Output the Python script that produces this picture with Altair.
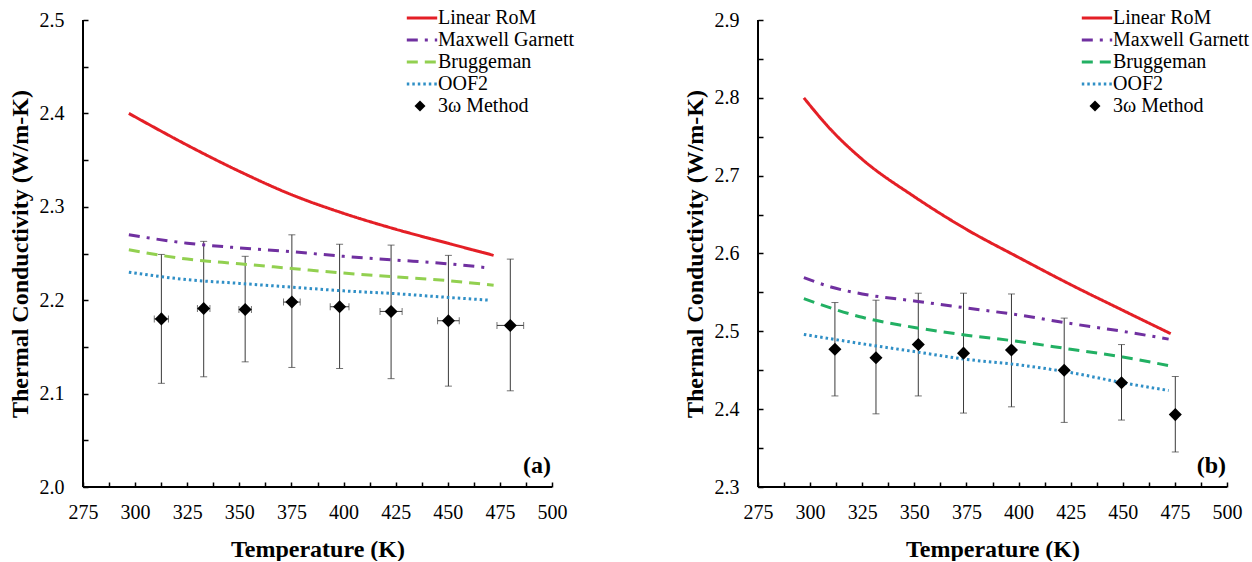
import altair as alt
import pandas as pd

FONT = "Liberation Serif"
SERIES = ["Linear RoM", "Maxwell Garnett", "Bruggeman", "OOF2"]
METHOD = "3ω Method"

X_TICKS = [275, 287.5, 300, 312.5, 325, 337.5, 350, 362.5, 375, 387.5, 400,
           412.5, 425, 437.5, 450, 462.5, 475, 487.5, 500]
A_Y_TICKS = [2.0, 2.05, 2.1, 2.15, 2.2, 2.25, 2.3, 2.35, 2.4, 2.45, 2.5]
B_Y_TICKS = [2.3, 2.35, 2.4, 2.45, 2.5, 2.55, 2.6, 2.65, 2.7, 2.75, 2.8, 2.85, 2.9]

# ---------- panel (a) ----------
A_ROM_T = [297, 310, 325, 350, 375, 400, 425, 450, 472]
A_ROM_K = [2.400, 2.384, 2.366, 2.338, 2.313, 2.293, 2.276, 2.261, 2.248]
A_MG_T = [297, 325, 350, 375, 400, 425, 450, 468]
A_MG_K = [2.270, 2.261, 2.256, 2.252, 2.247, 2.243, 2.239, 2.235]
A_BR_T = [297, 325, 350, 375, 400, 425, 450, 472]
A_BR_K = [2.254, 2.244, 2.239, 2.234, 2.229, 2.225, 2.221, 2.216]
A_OOF_T = [297, 325, 350, 375, 400, 425, 450, 470]
A_OOF_K = [2.230, 2.222, 2.218, 2.214, 2.210, 2.207, 2.203, 2.200]

A_EXP_T = [312.6, 332.9, 352.8, 375.2, 398.1, 422.8, 450.3, 480.0]
A_EXP_K = [2.180, 2.191, 2.190, 2.198, 2.193, 2.188, 2.178, 2.173]
A_EXP_HI = [2.249, 2.263, 2.247, 2.270, 2.260, 2.259, 2.248, 2.244]
A_EXP_LO = [2.111, 2.118, 2.134, 2.128, 2.127, 2.116, 2.108, 2.103]
A_EXP_TERR = [3.4, 3.0, 3.0, 4.0, 4.5, 5.3, 5.2, 6.4]

# ---------- panel (b) ----------
B_ROM_T = [297, 310, 325, 350, 375, 400, 425, 450, 473]
B_ROM_K = [2.800, 2.759, 2.721, 2.673, 2.631, 2.595, 2.560, 2.527, 2.497]
B_MG_T = [297, 310, 325, 350, 375, 400, 425, 450, 472]
B_MG_K = [2.569, 2.557, 2.548, 2.539, 2.530, 2.521, 2.510, 2.500, 2.490]
B_BR_T = [297, 325, 350, 375, 400, 425, 450, 472]
B_BR_K = [2.542, 2.518, 2.505, 2.495, 2.487, 2.477, 2.467, 2.456]
B_OOF_T = [297, 325, 350, 375, 400, 425, 450, 472]
B_OOF_K = [2.496, 2.484, 2.474, 2.464, 2.457, 2.447, 2.434, 2.424]

B_EXP_T = [311.9, 331.6, 351.9, 373.6, 396.6, 421.9, 449.4, 475.2]
B_EXP_K = [2.477, 2.466, 2.483, 2.472, 2.476, 2.450, 2.434, 2.393]
B_EXP_HI = [2.537, 2.540, 2.549, 2.549, 2.548, 2.517, 2.483, 2.442]
B_EXP_LO = [2.417, 2.394, 2.417, 2.395, 2.403, 2.383, 2.386, 2.345]

A_COLORS = ["#e41f26", "#7030a0", "#92d050", "#2f8fc6"]
B_COLORS = ["#e41f26", "#7030a0", "#22b063", "#2f8fc6"]
DASHES = [[1, 0], [11, 7, 3, 7], [11, 7], [2.5, 3]]
EB = "#3a3a3a"

W, H = 469, 467
LINE_SYMBOL = "M-1.6,0L1.6,0"


def panel(lines, exp, ydom, yticks, colors, label, terr=None):
    rows = []
    for name, (ts, ks) in zip(SERIES, lines):
        for t, k in zip(ts, ks):
            rows.append({"series": name, "T": t, "k": k})
    ldf = pd.DataFrame(rows)
    T, K, HI, LO = exp
    pdf = pd.DataFrame({"T": T, "k": K, "hi": HI, "lo": LO, "method": METHOD})

    xs = alt.Scale(domain=[275, 500], nice=False, zero=False)
    ys = alt.Scale(domain=ydom, nice=False, zero=False)
    xaxis = alt.Axis(values=X_TICKS, labelExpr="datum.value % 25 === 0 ? datum.label : ''",
                     offset=-5, tickSize=5, domain=False, grid=False, labelPadding=15,
                     labelFlush=False, labelOverlap=False, title="Temperature (K)",
                     titlePadding=15)
    yaxis = alt.Axis(values=yticks,
                     labelExpr="abs(datum.value*10 - round(datum.value*10)) < 0.001 ? format(datum.value, '.1f') : ''",
                     offset=-5, tickSize=5, domain=False, grid=False, labelPadding=19,
                     labelFlush=False, labelOverlap=False,
                     title="Thermal Conductivity (W/m-K)", titlePadding=7)

    def X(f):
        return alt.X(f, type="quantitative", scale=xs, axis=xaxis)

    def Y(f):
        return alt.Y(f, type="quantitative", scale=ys, axis=yaxis)

    leg_lines = alt.Legend(title=None, orient="none", legendX=328, legendY=-13,
                           symbolType=LINE_SYMBOL, symbolSize=361, symbolStrokeWidth=3,
                           labelOffset=5, rowPadding=1, padding=0)
    leg_pts = alt.Legend(title=None, orient="none", legendX=327, legendY=76,
                         symbolSize=120, symbolFillColor="black", symbolStrokeColor="black",
                         labelOffset=8, padding=0)

    vbar = alt.Chart(pdf).mark_rule(color=EB, strokeWidth=1).encode(
        x=X("T"), y=Y("lo"), y2="hi:Q")
    cap_hi = alt.Chart(pdf).mark_tick(color=EB, orient="horizontal", size=7, thickness=1).encode(
        x=X("T"), y=Y("hi"))
    cap_lo = alt.Chart(pdf).mark_tick(color=EB, orient="horizontal", size=7, thickness=1).encode(
        x=X("T"), y=Y("lo"))
    layers = [vbar, cap_hi, cap_lo]

    if terr is not None:
        pdf["tlo"] = [t - e for t, e in zip(T, terr)]
        pdf["thi"] = [t + e for t, e in zip(T, terr)]
        hbar = alt.Chart(pdf).mark_rule(color=EB, strokeWidth=1).encode(
            x=X("tlo"), x2="thi:Q", y=Y("k"))
        cap_l = alt.Chart(pdf).mark_tick(color=EB, orient="vertical", size=7, thickness=1).encode(
            x=X("tlo"), y=Y("k"))
        cap_r = alt.Chart(pdf).mark_tick(color=EB, orient="vertical", size=7, thickness=1).encode(
            x=X("thi"), y=Y("k"))
        layers += [hbar, cap_l, cap_r]

    line_ch = alt.Chart(ldf).mark_line(strokeWidth=3, interpolate="monotone").encode(
        x=X("T"), y=Y("k"),
        color=alt.Color("series:N", scale=alt.Scale(domain=SERIES, range=colors), legend=leg_lines),
        strokeDash=alt.StrokeDash("series:N", scale=alt.Scale(domain=SERIES, range=DASHES),
                                  legend=leg_lines),
        detail="series:N",
    )
    pts = alt.Chart(pdf).mark_point(filled=True, color="black", size=170, opacity=1).encode(
        x=X("T"), y=Y("k"),
        shape=alt.Shape("method:N", scale=alt.Scale(domain=[METHOD], range=["diamond"]),
                        legend=leg_pts),
    )

    base_df = pd.DataFrame({"T": [275], "k": [ydom[0]]})
    xline = alt.Chart(base_df).mark_rule(color="black", strokeWidth=2).encode(y=Y("k"))
    yline = alt.Chart(base_df).mark_rule(color="black", strokeWidth=2).encode(x=X("T"))

    lab = alt.Chart(pd.DataFrame({"t": [label]})).mark_text(
        font=FONT, fontSize=24, fontWeight="bold", align="right", baseline="alphabetic",
        color="black").encode(text="t:N", x=alt.value(W - 1), y=alt.value(H - 14))

    return alt.layer(*layers, line_ch, pts, xline, yline, lab).properties(width=W, height=H)


pa = panel([(A_ROM_T, A_ROM_K), (A_MG_T, A_MG_K), (A_BR_T, A_BR_K), (A_OOF_T, A_OOF_K)],
           (A_EXP_T, A_EXP_K, A_EXP_HI, A_EXP_LO), [2.0, 2.5], A_Y_TICKS, A_COLORS, "(a)",
           terr=A_EXP_TERR)
pb = panel([(B_ROM_T, B_ROM_K), (B_MG_T, B_MG_K), (B_BR_T, B_BR_K), (B_OOF_T, B_OOF_K)],
           (B_EXP_T, B_EXP_K, B_EXP_HI, B_EXP_LO), [2.3, 2.9], B_Y_TICKS, B_COLORS, "(b)")

chart = alt.hconcat(pa, pb, spacing=108).resolve_scale(
    x="independent", y="independent", color="independent",
    strokeDash="independent", shape="independent"
).resolve_legend(color="independent", strokeDash="independent", shape="independent"
).properties(
    padding={"left": 8, "top": 7, "right": 0, "bottom": 0}, background="white"
).configure_view(stroke=None).configure_axis(
    labelFont=FONT, titleFont=FONT, labelFontSize=20, titleFontSize=24,
    titleFontWeight="bold", labelColor="black", titleColor="black",
    tickColor="black", tickWidth=1.5
).configure_legend(
    labelFont=FONT, labelFontSize=20, labelColor="black", labelLimit=300
)

chart.save("out.html", embed_options={"renderer": "svg", "actions": False})
